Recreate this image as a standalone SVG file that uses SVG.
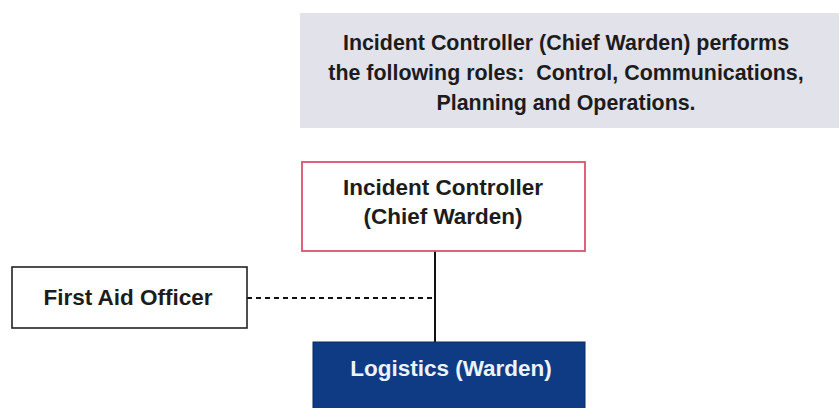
<svg xmlns="http://www.w3.org/2000/svg" width="839" height="408" viewBox="0 0 839 408">
  <style>
    .t { font-family: "Liberation Sans", Arial, sans-serif; font-weight: bold; text-anchor: middle; fill: #1c1c1c; }
    .note { font-size: 21.4px; }
    .lbl { font-size: 22.5px; }
    .conn { stroke: #111; stroke-width: 2; fill: none; }
  </style>
  <rect width="839" height="408" fill="#ffffff"/>

  <!-- summary note -->
  <g id="note">
    <rect x="300" y="13" width="539" height="115" fill="#e1e2ea"/>
    <text class="t note" x="566" y="50">Incident Controller (Chief Warden) performs</text>
    <text class="t note" x="566" y="80" xml:space="preserve">the following roles:  Control, Communications,</text>
    <text class="t note" x="566" y="110">Planning and Operations.</text>
  </g>

  <!-- connectors -->
  <g id="connectors">
    <line class="conn" x1="435" y1="251" x2="435" y2="343"/>
    <line class="conn" x1="247" y1="298" x2="435" y2="298" stroke-dasharray="5,4" stroke-width="1.6"/>
  </g>

  <g id="incident-controller">
    <rect x="302" y="162" width="283" height="89" fill="#ffffff" stroke="#d9536d" stroke-width="1.8"/>
    <text class="t lbl" x="443" y="195">Incident Controller</text>
    <text class="t lbl" x="443" y="224">(Chief Warden)</text>
  </g>

  <g id="first-aid-officer">
    <rect x="12" y="267" width="235" height="61" fill="#ffffff" stroke="#222" stroke-width="1.6"/>
    <text class="t lbl" x="128" y="305">First Aid Officer</text>
  </g>

  <g id="logistics">
    <rect x="313" y="342" width="272" height="70" fill="#0e3b84" stroke="#0a2a60" stroke-width="1"/>
    <text class="t lbl" x="451" y="376" style="fill:#eef2fa">Logistics (Warden)</text>
  </g>
</svg>
